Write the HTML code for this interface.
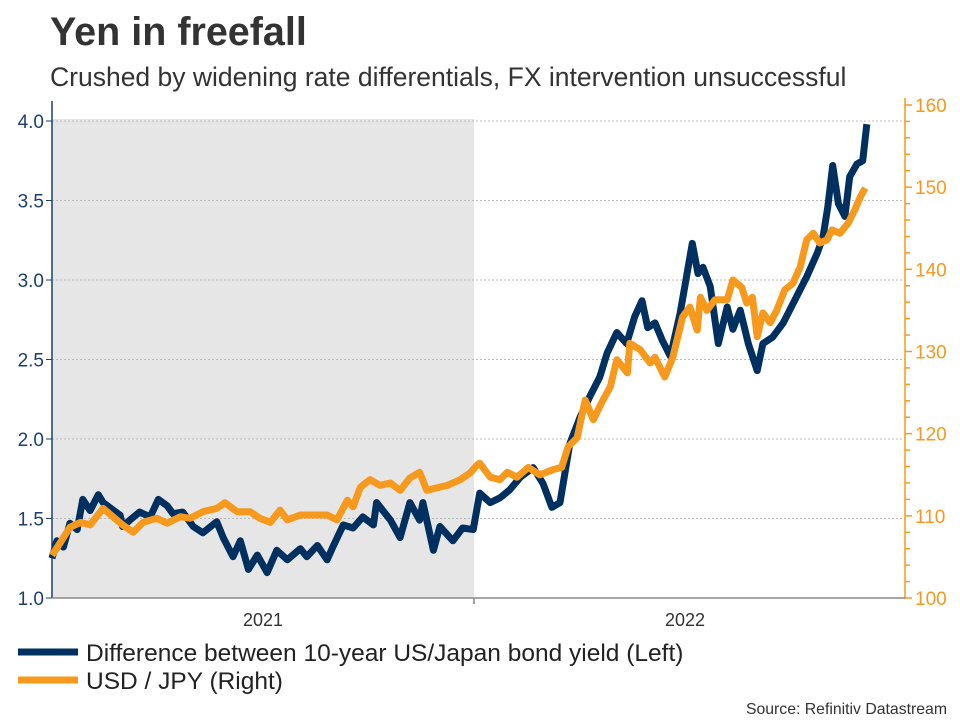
<!DOCTYPE html>
<html><head><meta charset="utf-8"><style>
body{margin:0;background:#fff;width:960px;height:720px;overflow:hidden;font-family:"Liberation Sans",Arial,sans-serif}
svg{display:block}
</style></head><body>
<svg id="c" width="960" height="720" xmlns="http://www.w3.org/2000/svg">
<text x="50" y="45" font-size="39.5" font-weight="bold" fill="#333">Yen in freefall</text>
<text x="50" y="86" font-size="26.5" fill="#333">Crushed by widening rate differentials, FX intervention unsuccessful</text>
<g id="plot"></g>
<g>
<line x1="18" y1="652" x2="78" y2="652" stroke="#00305f" stroke-width="7"/>
<text x="86" y="661" font-size="24.5" fill="#222">Difference between 10-year US/Japan bond yield (Left)</text>
<line x1="18" y1="680" x2="78" y2="680" stroke="#f7991c" stroke-width="7"/>
<text x="86" y="689" font-size="24.5" fill="#222">USD / JPY (Right)</text>
</g>
<text x="947" y="714" font-size="15.8" fill="#333" text-anchor="end">Source: Refinitiv Datastream</text>
</svg>
<script>
const leftTicks=[1.0,1.5,2.0,2.5,3.0,3.5,4.0];
const rightTicks=[100,110,120,130,140,150,160];
const yearLabels=["2021","2022"];
const blueWeeks=[0,0.6,1.4,2.2,3.1,3.8,4.7,5.7,6.3,7.1,8.4,8.7,9.6,10.8,12.1,13.1,14.2,14.9,16.1,17.4,18.6,20.3,21.1,22.3,23.2,24.2,25.3,26.5,27.7,29.0,30.6,31.4,32.7,33.9,34.6,35.9,37.1,38.3,39.6,40.0,41.7,42.9,44.1,45.3,45.7,47.0,47.8,49.4,50.6,51.9,52.4,52.7,54.0,55.2,56.4,57.7,59.3,60.5,61.6,62.6,63.8,65.1,66.3,67.5,68.4,69.6,70.8,71.8,72.7,73.4,74.3,75.2,76.2,77.4,78.9,79.6,80.2,81.1,82.1,83.2,83.9,84.8,85.8,86.9,87.6,88.8,90.1,90.9,92.2,93.0,94.3,95.0,95.6,96.2,96.9,97.7,98.3,99.2,99.9,100.4];
const blueValues=[1.25,1.36,1.32,1.47,1.43,1.62,1.55,1.65,1.60,1.57,1.52,1.45,1.49,1.54,1.51,1.62,1.58,1.53,1.54,1.45,1.41,1.48,1.38,1.26,1.36,1.18,1.27,1.16,1.30,1.24,1.31,1.26,1.33,1.24,1.32,1.46,1.44,1.51,1.46,1.60,1.49,1.38,1.60,1.49,1.60,1.30,1.45,1.36,1.44,1.43,1.57,1.66,1.60,1.63,1.68,1.76,1.82,1.72,1.57,1.60,1.97,2.14,2.27,2.39,2.54,2.67,2.60,2.77,2.87,2.70,2.73,2.62,2.52,2.79,3.23,3.04,3.08,2.96,2.60,2.83,2.69,2.81,2.60,2.43,2.60,2.64,2.73,2.81,2.94,3.02,3.17,3.27,3.46,3.72,3.48,3.40,3.65,3.73,3.75,3.98];
const orangeWeeks=[0,1.0,2.2,3.5,4.7,6.3,7.5,8.7,10.0,11.2,12.9,14.2,15.8,17.0,18.6,20.3,21.3,22.8,24.4,25.6,26.9,28.1,29.0,30.6,32.2,33.9,35.1,36.4,37.1,38.0,39.2,40.4,41.7,42.9,44.1,45.3,46.2,47.4,48.7,50.3,51.5,52.4,52.7,54.0,55.2,56.1,57.3,58.7,60.1,61.7,62.8,63.6,64.7,65.7,66.7,67.8,68.8,69.6,70.9,71.2,72.5,73.7,74.3,75.5,76.5,77.7,78.6,79.5,79.9,80.7,81.7,83.2,83.9,85.0,85.6,86.3,86.9,87.6,88.5,89.3,90.3,91.3,92.2,93.0,93.8,94.6,95.5,96.1,97.1,98.1,98.9,99.6,100.2];
const orangeValues=[105.2,106.7,108.6,109.2,108.9,110.9,109.9,108.9,108.0,109.2,109.7,109.1,109.9,109.7,110.5,110.9,111.6,110.5,110.5,109.7,109.2,110.7,109.5,110.1,110.1,110.1,109.5,111.9,111.1,113.5,114.4,113.7,114.0,113.1,114.6,115.3,113.1,113.4,113.7,114.4,115.2,116.2,116.4,114.7,114.4,115.3,114.7,115.9,115.0,115.6,115.9,118.4,119.5,124.1,121.7,123.9,125.7,129.0,127.4,131.0,130.2,128.6,129.3,126.9,129.3,134.2,135.4,132.6,136.6,135.0,136.3,136.3,138.7,137.8,135.9,136.6,131.8,134.7,133.5,135.0,137.5,138.3,140.3,143.6,144.4,143.2,143.6,144.8,144.4,145.6,147.2,148.8,149.9];

const X0=52,X1=905,YB=598,YT=121;
const xScale=w=>X0+w*(474-X0)/52;
const yL=v=>YB-(v-1)*(YB-YT)/3;
const yR=v=>YB-(v-100)*(YB-105)/60;
const NS="http://www.w3.org/2000/svg";
const g=document.getElementById('plot');
function mk(t,a){const e=document.createElementNS(NS,t);for(const k in a)e.setAttribute(k,a[k]);g.appendChild(e);return e;}

const shade=mk('rect',{x:X0,y:YT-2,width:xScale(52)-X0,height:YB-YT+2,fill:'#e6e6e6'});



leftTicks.forEach(v=>{
  if(v>1){const l=mk('line',{x1:X0,x2:X1,y1:yL(v),y2:yL(v),stroke:'#bbb','stroke-dasharray':'2,2','stroke-width':1});
  
  }
  const tk=mk('line',{x1:X0-6,x2:X0,y1:yL(v),y2:yL(v),stroke:'#1d3f6e','stroke-width':1});
  
  
  const t=mk('text',{x:X0-8,y:yL(v)+7,'font-size':19,fill:'#1d3f6e','text-anchor':'end'});
  t.textContent=v.toFixed(1);
  
  
});
for(let v=100;v<=160;v+=2){
  const major=v%10===0;
  const tk=mk('line',{x1:X1,x2:X1+(major?7:5),y1:yR(v),y2:yR(v),stroke:'#f7991c','stroke-width':1.5});
  
  
}
rightTicks.forEach(v=>{
  const t=mk('text',{x:X1+10,y:yR(v)+7,'font-size':19,fill:'#f7991c'});
  t.textContent=v;
  
  
});
const la=mk('line',{x1:X0,x2:X0,y1:YT-20,y2:YB,stroke:'#1d3f6e','stroke-width':1.5});


const ra=mk('line',{x1:X1,x2:X1,y1:98,y2:YB,stroke:'#f7991c','stroke-width':1.5});


const xa=mk('line',{x1:X0,x2:X1,y1:YB,y2:YB,stroke:'#888','stroke-width':1.5});


const yt=mk('line',{x1:xScale(52),x2:xScale(52),y1:YB,y2:YB+6,stroke:'#888','stroke-width':1.5});


yearLabels.forEach((s,i)=>{
  const t=mk('text',{x:xScale(26+52*i),y:626,'font-size':18,fill:'#333','text-anchor':'middle'});
  t.textContent=s;
  
  
});
const pb=mk('path',{d:blueWeeks.map((w,i)=>(i?'L':'M')+xScale(w).toFixed(1)+','+yL(blueValues[i]).toFixed(1)).join(''),fill:'none',stroke:'#00305f','stroke-width':7,'stroke-linejoin':'round'});


const po=mk('path',{d:orangeWeeks.map((w,i)=>(i?'L':'M')+xScale(w).toFixed(1)+','+yR(orangeValues[i]).toFixed(1)).join(''),fill:'none',stroke:'#f7991c','stroke-width':7,'stroke-linejoin':'round'});


</script>
</body></html>
